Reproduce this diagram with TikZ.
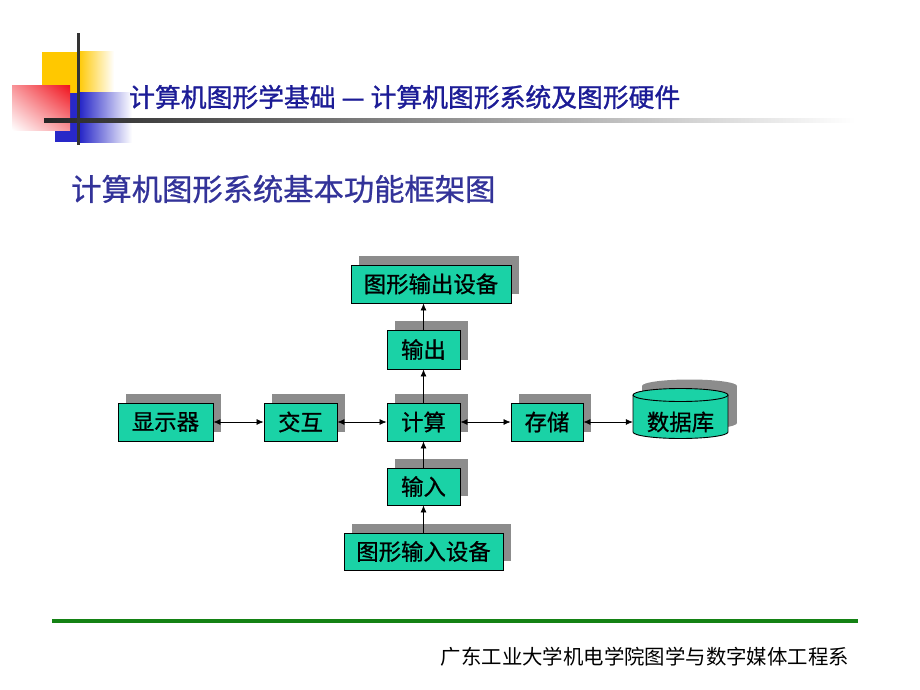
\documentclass[tikz,border=0pt]{standalone}
\usepackage{fontspec}
\setmainfont{Noto Sans CJK SC}
\newfontfamily\cjk{Noto Sans CJK SC}
\newfontfamily\cjkb[FakeBold=1.2]{Noto Sans CJK SC}
\newfontfamily\cjkm[FakeBold=0.8]{Noto Sans CJK SC}
\usetikzlibrary{arrows.meta,shadows,shadings}
\definecolor{boxteal}{RGB}{26,210,166}
\definecolor{titleblue}{RGB}{28,28,150}
\definecolor{subblue}{RGB}{51,51,153}
\definecolor{decoyellow}{RGB}{255,200,0}
\definecolor{decoblue}{RGB}{40,40,200}
\definecolor{decored}{RGB}{240,20,30}
\definecolor{footgreen}{RGB}{20,130,20}
\definecolor{shadowgray}{RGB}{140,140,140}
\tikzset{
  fbox/.style={draw=black, line width=0.9pt, fill=boxteal, inner sep=0pt,
    font=\cjkm\fontsize{22.4}{22.4}\selectfont,
    general shadow={fill=shadowgray, shadow xshift=8pt, shadow yshift=9pt}},
  link/.style={draw=black, line width=0.7pt, -{Latex[length=7pt,width=6pt]}},
  dlink/.style={draw=black, line width=0.7pt, {Latex[length=7pt,width=6pt]}-{Latex[length=7pt,width=6pt]}}
}
\begin{document}
\begin{tikzpicture}[x=1pt,y=-1pt]
\useasboundingbox (0,0) rectangle (920,690);
% decoration
\fill[decoyellow] (42,52) rectangle (78,93);
\shade[left color=decoyellow, right color=white] (78,52) rectangle (114,93);
\fill[decoblue] (55,93) rectangle (80,142);
\shade[left color=decoblue, right color=white] (80,93) rectangle (132,142);
\shade[lower left=white, upper right=decored, lower right=decored!45!white, upper left=decored!45!white] (12,86) rectangle (70,130);
\shade[left color=black!85, right color=white] (44,119) rectangle (855,123);
\fill[black!80] (76.5,33) rectangle (79.5,145);
% titles
\node[anchor=west, inner sep=0pt, text=titleblue, font=\cjkb\fontsize{25.8}{25.8}\selectfont] (title) at (129,97) {计算机图形学基础\hspace{6pt}—\hspace{6pt}计算机图形系统及图形硬件};
\node[anchor=west, inner sep=0pt, text=subblue, font=\cjkm\fontsize{30.3}{30.3}\selectfont] (sub) at (71,189) {计算机图形系统基本功能框架图};
% boxes
\node[fbox, minimum width=160pt, minimum height=38pt] (outdev) at (431,284) {图形输出设备};
\node[fbox, minimum width=73pt, minimum height=39pt] (out) at (423.5,349.5) {输出};
\node[fbox, minimum width=73pt, minimum height=38pt] (calc) at (423.5,422) {计算};
\node[fbox, minimum width=73pt, minimum height=37pt] (in) at (423.5,486.5) {输入};
\node[fbox, minimum width=159pt, minimum height=37pt] (indev) at (423.5,551.5) {图形输入设备};
\node[fbox, minimum width=95pt, minimum height=38pt] (disp) at (165.5,422) {显示器};
\node[fbox, minimum width=73pt, minimum height=38pt] (inter) at (300.5,422) {交互};
\node[fbox, minimum width=72pt, minimum height=38pt] (store) at (547,422) {存储};
% database cylinder
\begin{scope}[shift={(9,-9)}]
\fill[shadowgray] (633,395) rectangle (728,432);
\fill[shadowgray] (680.5,432) ellipse (47.5 and 6.5);
\fill[shadowgray] (680.5,395) ellipse (47.5 and 6.5);
\end{scope}
\fill[boxteal] (633,395) rectangle (728,432);
\fill[boxteal] (680.5,432) ellipse (47.5 and 6.5);
\draw[line width=0.9pt] (633,395) -- (633,432) arc[start angle=180, end angle=360, x radius=47.5pt, y radius=6.5pt] -- (728,395);
\draw[line width=0.9pt, fill=boxteal] (680.5,395) ellipse (47.5 and 6.5);
\node[inner sep=0pt, minimum width=95pt, minimum height=38pt, font=\cjkm\fontsize{22.4}{22.4}\selectfont] (db) at (680.5,422) {数据库};
% connectors
\draw[link] (out.north) -- (out.north |- outdev.south);
\draw[link] (calc) -- (out);
\draw[link] (in) -- (calc);
\draw[link] (indev) -- (in);
\draw[dlink] (disp) -- (inter);
\draw[dlink] (inter) -- (calc);
\draw[dlink] (calc) -- (store);
\draw[dlink] (store) -- (db);
% footer
\draw[footgreen, line width=3.5pt] (52,621) -- (858,621);
\node[anchor=east, inner sep=0pt, font=\cjk\fontsize{20.4}{20.4}\selectfont] (foot) at (849,657) {广东工业大学机电学院图学与数字媒体工程系};
\end{tikzpicture}
\end{document}
